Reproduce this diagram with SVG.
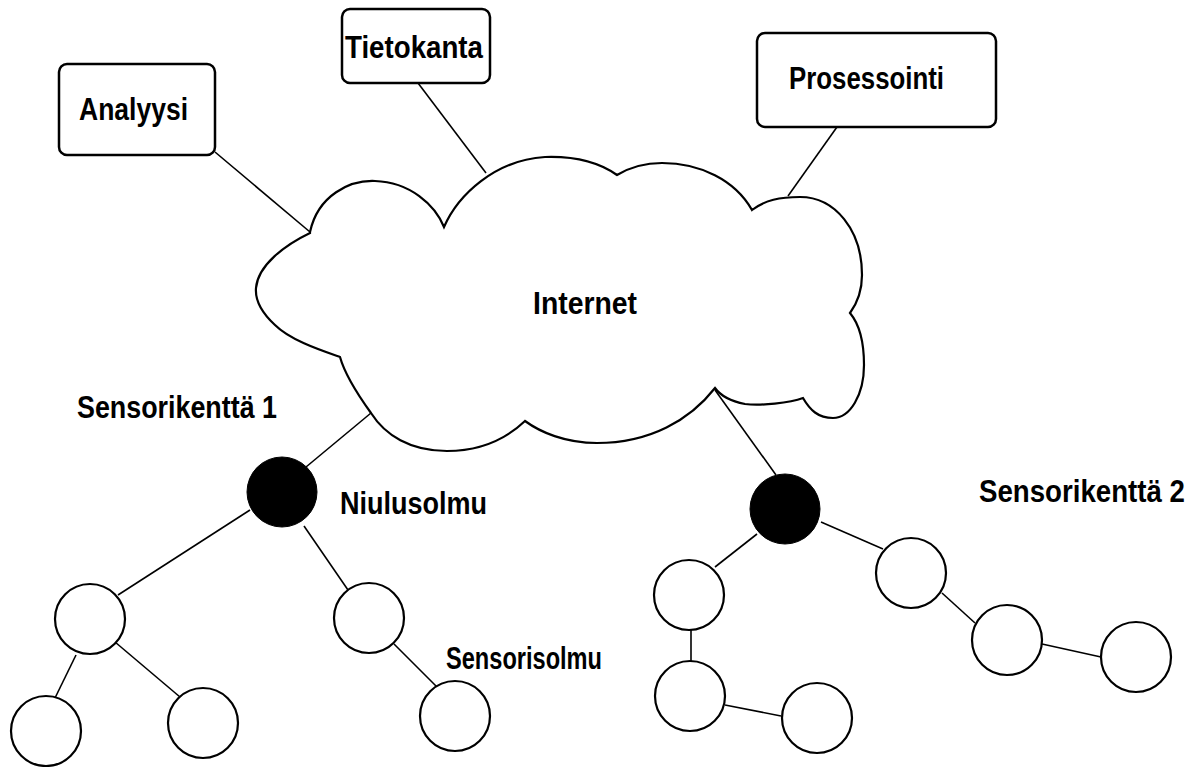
<svg xmlns="http://www.w3.org/2000/svg" width="1200" height="767" viewBox="0 0 1200 767">
  <style>
    .box { fill: #fff; stroke: #000; stroke-width: 2.5; }
    .cloud { fill: #fff; stroke: #000; stroke-width: 2.2; stroke-linejoin: miter; }
    .link { stroke: #000; stroke-width: 1.6; fill: none; }
    .sensor { fill: #fff; stroke: #000; stroke-width: 2.2; }
    .sink { fill: #000; stroke: #000; stroke-width: 1; }
    .lbl { font-family: "Liberation Sans", Arial, sans-serif; font-weight: bold; font-size: 28px; fill: #000; }
  </style>
  <rect width="1200" height="767" fill="#fff"/>

  <!-- connectors -->
  <g id="connectors">
    <line class="link" x1="215" y1="152" x2="310" y2="232"/>
    <line class="link" x1="418" y1="83" x2="486" y2="173"/>
    <line class="link" x1="837" y1="127" x2="788" y2="196"/>
    <line class="link" x1="371" y1="413" x2="306" y2="467"/>
    <line class="link" x1="715" y1="390" x2="776" y2="475"/>
    <!-- field 1 -->
    <line class="link" x1="250" y1="510" x2="118" y2="595"/>
    <line class="link" x1="304" y1="526" x2="348" y2="590"/>
    <line class="link" x1="76" y1="655" x2="55" y2="698"/>
    <line class="link" x1="115" y1="642" x2="180" y2="697"/>
    <line class="link" x1="394" y1="644" x2="437" y2="687"/>
    <!-- field 2 -->
    <line class="link" x1="757" y1="534" x2="715" y2="567"/>
    <line class="link" x1="691" y1="629" x2="691" y2="662"/>
    <line class="link" x1="725" y1="705" x2="781" y2="716"/>
    <line class="link" x1="821" y1="522" x2="883" y2="549"/>
    <line class="link" x1="942" y1="593" x2="975" y2="623"/>
    <line class="link" x1="1042" y1="644" x2="1101" y2="657"/>
  </g>

  <!-- services -->
  <g id="analyysi">
    <rect class="box" x="59" y="64" width="156" height="91" rx="8"/>
    <text class="lbl" transform="translate(79,120) scale(1,1.1)" textLength="109" lengthAdjust="spacingAndGlyphs">Analyysi</text>
  </g>
  <g id="tietokanta">
    <rect class="box" x="342" y="9" width="148" height="74" rx="8"/>
    <text class="lbl" transform="translate(345,58) scale(1,1.1)" textLength="138" lengthAdjust="spacingAndGlyphs">Tietokanta</text>
  </g>
  <g id="prosessointi">
    <rect class="box" x="757" y="33" width="239" height="94" rx="8"/>
    <text class="lbl" transform="translate(789,89) scale(1,1.1)" textLength="155" lengthAdjust="spacingAndGlyphs">Prosessointi</text>
  </g>

  <!-- internet cloud -->
  <g id="internet">
    <path class="cloud" d="M310,232
      C318,195 350,180 375,181 C410,182 435,205 444,227
      C458,195 495,160 545,157 C575,156 600,163 617,175
      C632,166 645,163 662,163 C700,163 735,180 752,210
      C765,200 780,197 800,197 C835,197 862,230 862,275 C862,290 858,302 850,313
      C860,325 864,345 864,365 C864,395 850,418 833,418 C818,418 810,410 803,398
      C790,403 760,406 745,404 C730,401 720,395 715,388
      C690,420 650,443 597,443 C565,443 540,432 525,421
      C505,440 480,451 447,451 C410,451 385,435 371,413 C358,395 345,375 340,357
      C320,350 290,340 275,325 C262,313 255,300 256,288 C258,265 285,245 310,233 Z"/>
    <text class="lbl" transform="translate(533,314) scale(1,1.1)" textLength="104" lengthAdjust="spacingAndGlyphs">Internet</text>
  </g>

  <!-- sensor field 1 -->
  <g id="field1-label">
    <text class="lbl" transform="translate(77,418) scale(1,1.1)" textLength="200" lengthAdjust="spacingAndGlyphs">Sensorikenttä 1</text>
  </g>
  <g id="sink1">
    <circle class="sink" cx="282" cy="492" r="35"/>
    <text class="lbl" transform="translate(340,514) scale(1,1.1)" textLength="147" lengthAdjust="spacingAndGlyphs">Niulusolmu</text>
  </g>
  <g id="s1a"><circle class="sensor" cx="90" cy="619" r="35"/></g>
  <g id="s1b"><circle class="sensor" cx="369" cy="618" r="35"/></g>
  <g id="s1c"><circle class="sensor" cx="46" cy="731" r="35"/></g>
  <g id="s1d"><circle class="sensor" cx="203" cy="723" r="35"/></g>
  <g id="s1e"><circle class="sensor" cx="455" cy="716" r="35"/></g>
  <g id="sensor-label">
    <text class="lbl" transform="translate(446,669) scale(1,1.1)" textLength="156" lengthAdjust="spacingAndGlyphs">Sensorisolmu</text>
  </g>

  <!-- sensor field 2 -->
  <g id="field2-label">
    <text class="lbl" transform="translate(979,502) scale(1,1.1)" textLength="206" lengthAdjust="spacingAndGlyphs">Sensorikenttä 2</text>
  </g>
  <g id="sink2"><circle class="sink" cx="785" cy="509" r="35"/></g>
  <g id="s2a"><circle class="sensor" cx="689" cy="595" r="35"/></g>
  <g id="s2b"><circle class="sensor" cx="690" cy="696" r="35"/></g>
  <g id="s2c"><circle class="sensor" cx="817" cy="718" r="35"/></g>
  <g id="s2d"><circle class="sensor" cx="911" cy="573" r="35"/></g>
  <g id="s2e"><circle class="sensor" cx="1007" cy="640" r="35"/></g>
  <g id="s2f"><circle class="sensor" cx="1136" cy="657" r="35"/></g>
</svg>
